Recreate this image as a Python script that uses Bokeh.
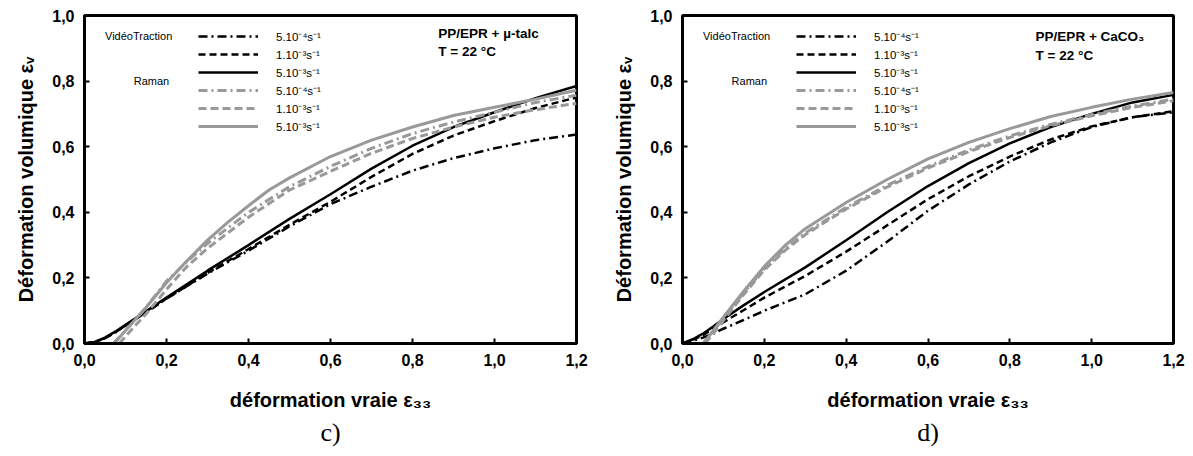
from bokeh.plotting import figure
from bokeh.layouts import row
from bokeh.models import Range1d, FixedTicker, Label, Legend, LegendItem, Title
from bokeh.core.properties import value
from bokeh.embed import file_html
from bokeh.resources import INLINE

# ---------------- data ----------------
x_ticks = [0.0, 0.2, 0.4, 0.6, 0.8, 1.0, 1.2]
x_tick_labels = ["0,0", "0,2", "0,4", "0,6", "0,8", "1,0", "1,2"]
y_ticks = [0.0, 0.2, 0.4, 0.6, 0.8, 1.0]
y_tick_labels = ["0,0", "0,2", "0,4", "0,6", "0,8", "1,0"]

rate_labels = ["5.10\u207b\u2074s\u207b\u00b9", "1.10\u207b\u00b3s\u207b\u00b9", "5.10\u207b\u00b3s\u207b\u00b9",
               "5.10\u207b\u2074s\u207b\u00b9", "1.10\u207b\u00b3s\u207b\u00b9", "5.10\u207b\u00b3s\u207b\u00b9"]

# panel c) PP/EPR + micro-talc
c_vt_x = [0, 0.025, 0.05, 0.075, 0.1, 0.15, 0.2, 0.3, 0.4, 0.5, 0.6, 0.7, 0.8, 0.9, 1.0, 1.1, 1.2]
c_vt_5e4 = [0, 0.004, 0.016, 0.034, 0.055, 0.095, 0.137, 0.213, 0.283, 0.357, 0.425, 0.478, 0.527, 0.565, 0.595, 0.62, 0.637]
c_vt_1e3 = [0, 0.004, 0.016, 0.034, 0.055, 0.095, 0.137, 0.215, 0.288, 0.362, 0.432, 0.508, 0.578, 0.634, 0.678, 0.718, 0.75]
c_vt_5e3 = [0, 0.005, 0.018, 0.036, 0.057, 0.098, 0.14, 0.222, 0.30, 0.38, 0.455, 0.533, 0.603, 0.66, 0.705, 0.748, 0.785]

c_ra_5e4_x = [0.07, 0.1, 0.15, 0.2, 0.25, 0.3, 0.4, 0.5, 0.6, 0.7, 0.8, 0.9, 1.0, 1.1, 1.2]
c_ra_5e4 = [0, 0.04, 0.11, 0.19, 0.25, 0.305, 0.40, 0.478, 0.54, 0.595, 0.64, 0.675, 0.705, 0.735, 0.757]
c_ra_1e3_x = [0.085, 0.1, 0.15, 0.2, 0.25, 0.3, 0.4, 0.5, 0.6, 0.7, 0.8, 0.9, 1.0, 1.1, 1.2]
c_ra_1e3 = [0, 0.022, 0.09, 0.165, 0.235, 0.29, 0.385, 0.468, 0.525, 0.58, 0.625, 0.66, 0.69, 0.713, 0.732]
c_ra_5e3_x = [0.073, 0.1, 0.15, 0.2, 0.25, 0.3, 0.35, 0.4, 0.45, 0.5, 0.6, 0.7, 0.8, 0.9, 1.0, 1.1, 1.2]
c_ra_5e3 = [0, 0.04, 0.11, 0.185, 0.252, 0.315, 0.37, 0.42, 0.468, 0.505, 0.57, 0.62, 0.66, 0.695, 0.72, 0.745, 0.772]

# panel d) PP/EPR + CaCO3
d_vt_x = [0, 0.025, 0.05, 0.075, 0.1, 0.15, 0.2, 0.3, 0.4, 0.5, 0.6, 0.7, 0.8, 0.9, 1.0, 1.1, 1.2]
d_vt_5e4 = [0, 0.008, 0.018, 0.03, 0.045, 0.072, 0.10, 0.15, 0.222, 0.31, 0.405, 0.485, 0.555, 0.613, 0.66, 0.69, 0.705]
d_vt_1e3 = [0, 0.011, 0.025, 0.045, 0.065, 0.102, 0.14, 0.206, 0.28, 0.36, 0.44, 0.51, 0.57, 0.622, 0.662, 0.69, 0.708]
d_vt_5e3 = [0, 0.013, 0.03, 0.052, 0.075, 0.117, 0.157, 0.232, 0.315, 0.40, 0.48, 0.55, 0.61, 0.66, 0.70, 0.735, 0.758]

d_ra_5e4_x = [0.05, 0.075, 0.1, 0.15, 0.2, 0.25, 0.3, 0.4, 0.5, 0.6, 0.7, 0.8, 0.9, 1.0, 1.1, 1.2]
d_ra_5e4 = [0, 0.038, 0.077, 0.155, 0.228, 0.288, 0.337, 0.415, 0.482, 0.54, 0.59, 0.633, 0.668, 0.698, 0.724, 0.745]
d_ra_1e3_x = [0.055, 0.075, 0.1, 0.15, 0.2, 0.25, 0.3, 0.4, 0.5, 0.6, 0.7, 0.8, 0.9, 1.0, 1.1, 1.2]
d_ra_1e3 = [0, 0.03, 0.07, 0.15, 0.224, 0.283, 0.332, 0.41, 0.477, 0.535, 0.585, 0.628, 0.664, 0.694, 0.72, 0.74]
d_ra_5e3_x = [0.053, 0.075, 0.1, 0.15, 0.2, 0.25, 0.3, 0.4, 0.5, 0.6, 0.7, 0.8, 0.9, 1.0, 1.1, 1.2]
d_ra_5e3 = [0, 0.04, 0.08, 0.16, 0.235, 0.298, 0.35, 0.43, 0.50, 0.563, 0.613, 0.655, 0.692, 0.72, 0.745, 0.765]

SANS = "Liberation Sans"
SERIF = "Liberation Serif"
GRAY = "#999999"

styles = [
    dict(color="black", line_width=2.5, line_dash="9 4 2 4"),
    dict(color="black", line_width=2.5, line_dash="7 4"),
    dict(color="black", line_width=2.5, line_dash="solid"),
    dict(color=GRAY, line_width=3, line_dash="9 4 2 4"),
    dict(color=GRAY, line_width=3, line_dash="8 4"),
    dict(color=GRAY, line_width=3, line_dash="solid"),
]


def make_panel(series, material, caption, fw, right_border, ann_y):
    p = figure(frame_width=fw, frame_height=328, output_backend="svg", toolbar_location=None,
               x_range=Range1d(0, 1.2), y_range=Range1d(0, 1.0),
               min_border_left=84, min_border_right=right_border, min_border_top=15, min_border_bottom=20)
    p.grid.visible = False
    p.outline_line_color = "black"
    p.outline_line_width = 3
    p.background_fill_color = "white"
    p.border_fill_color = "white"

    for ax, ticks, labs in ((p.xaxis, x_ticks, x_tick_labels), (p.yaxis, y_ticks, y_tick_labels)):
        ax.ticker = FixedTicker(ticks=ticks)
        ax.major_label_overrides = dict(zip(ticks, labs))
        ax.axis_line_width = 3
        ax.axis_line_color = "black"
        ax.major_tick_in = 5
        ax.major_tick_out = 0
        ax.major_tick_line_width = 2
        ax.minor_tick_line_color = None
        ax.major_label_text_font = SANS
        ax.major_label_text_font_style = "bold"
        ax.major_label_text_font_size = "16px"
        ax.major_label_text_color = "black"
        ax.major_label_standoff = 10
        ax.axis_label_text_font = SANS
        ax.axis_label_text_font_style = "bold"
        ax.axis_label_text_font_size = "20px"
        ax.axis_label_text_color = "black"

    p.xaxis.axis_label = "déformation vraie ε\u2083\u2083"
    p.xaxis.axis_label_standoff = 20
    p.yaxis.axis_label = "Déformation volumique ε\u1d65"
    p.yaxis.axis_label_standoff = 12

    cap = Title(text=caption, align="center", text_font=SERIF, text_font_size="26px",
                text_font_style="normal", text_color="black", standoff=4)
    p.add_layout(cap, "below")

    items = []
    for (xs, ys), st, lab in zip(series, styles, rate_labels):
        r = p.line(xs, ys, line_color=st["color"], line_width=st["line_width"], line_dash=st["line_dash"])
        items.append(LegendItem(label=value(lab), renderers=[r]))

    leg = Legend(items=items, location=(114, 208), glyph_width=60, glyph_height=18, label_height=18,
                 label_standoff=18, spacing=0, padding=0, margin=0,
                 border_line_alpha=0, background_fill_alpha=0,
                 label_text_font=SANS, label_text_font_size="11.5px", label_text_color="black")
    p.add_layout(leg)

    def lab(x, y, text, size, style="normal"):
        p.add_layout(Label(x=x, y=y, text=text, text_font=SANS, text_font_size=size,
                           text_font_style=style, text_align="left", text_baseline="middle",
                           text_color="black"))

    lab(0.05, 0.936, "VidéoTraction", "11px")
    lab(0.12, 0.80, "Raman", "11px")
    lab(0.863, ann_y[0], material, "13.5px", "bold")
    lab(0.863, ann_y[1], "T = 22 °C", "13.5px", "bold")
    return p


p1 = make_panel([(c_vt_x, c_vt_5e4), (c_vt_x, c_vt_1e3), (c_vt_x, c_vt_5e3),
                 (c_ra_5e4_x, c_ra_5e4), (c_ra_1e3_x, c_ra_1e3), (c_ra_5e3_x, c_ra_5e3)],
                "PP/EPR + µ-talc", "c)", 492, 22, (0.944, 0.89))
p2 = make_panel([(d_vt_x, d_vt_5e4), (d_vt_x, d_vt_1e3), (d_vt_x, d_vt_5e3),
                 (d_ra_5e4_x, d_ra_5e4), (d_ra_1e3_x, d_ra_1e3), (d_ra_5e3_x, d_ra_5e3)],
                "PP/EPR + CaCO\u2083", "d)", 491, 18, (0.935, 0.878))

layout = row(p1, p2, spacing=0)
open("out.html", "w").write(file_html(layout, INLINE))
